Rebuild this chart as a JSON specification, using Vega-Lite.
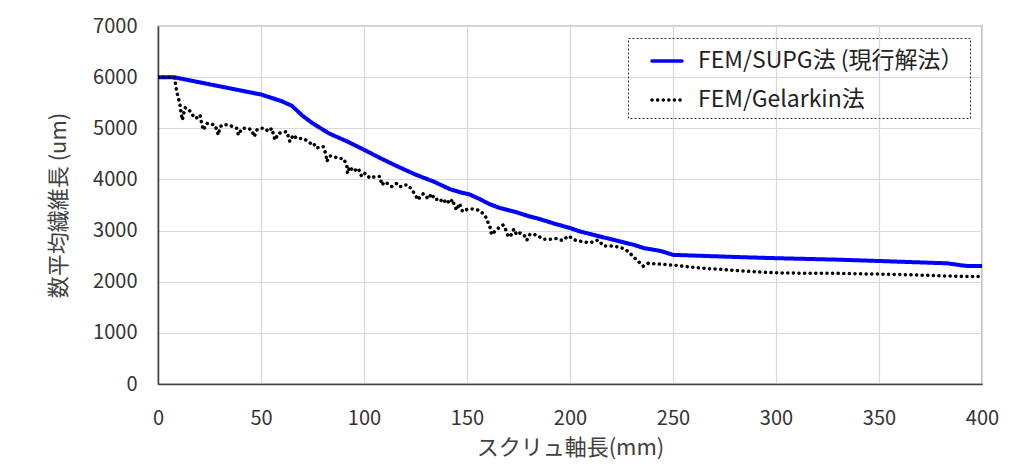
{
  "$schema": "https://vega.github.io/schema/vega-lite/v6.json",
  "width": 824,
  "height": 358,
  "autosize": {"type": "none"},
  "padding": {"left": 158, "top": 26, "right": 40, "bottom": 85},
  "background": "white",
  "config": {
    "font": "Noto Sans CJK JP",
    "view": {"stroke": "#404040", "strokeWidth": 1.2},
    "axis": {
      "labelFont": "Noto Sans CJK JP",
      "titleFont": "Noto Sans CJK JP",
      "labelFontSize": 20,
      "titleFontSize": 22,
      "labelColor": "#333333",
      "titleColor": "#404040",
      "titleFontWeight": "normal",
      "gridColor": "#d9d9d9",
      "gridWidth": 1.2,
      "ticks": false,
      "domainColor": "#404040",
      "domainWidth": 1.5,
      "format": "d"
    }
  },
  "data": {
    "values": [
      {"s": "FEM/SUPG法 (現行解法）", "x": 0, "y": 6000}, {"s": "FEM/SUPG法 (現行解法）", "x": 7.5, "y": 6000}, {"s": "FEM/SUPG法 (現行解法）", "x": 30, "y": 5820}, {"s": "FEM/SUPG法 (現行解法）", "x": 50, "y": 5660},
      {"s": "FEM/SUPG法 (現行解法）", "x": 60, "y": 5530}, {"s": "FEM/SUPG法 (現行解法）", "x": 65, "y": 5440}, {"s": "FEM/SUPG法 (現行解法）", "x": 70, "y": 5250}, {"s": "FEM/SUPG法 (現行解法）", "x": 75, "y": 5100},
      {"s": "FEM/SUPG法 (現行解法）", "x": 83, "y": 4900}, {"s": "FEM/SUPG法 (現行解法）", "x": 92, "y": 4740}, {"s": "FEM/SUPG法 (現行解法）", "x": 100, "y": 4580}, {"s": "FEM/SUPG法 (現行解法）", "x": 108, "y": 4415},
      {"s": "FEM/SUPG法 (現行解法）", "x": 116, "y": 4260}, {"s": "FEM/SUPG法 (現行解法）", "x": 125, "y": 4095}, {"s": "FEM/SUPG法 (現行解法）", "x": 134, "y": 3955}, {"s": "FEM/SUPG法 (現行解法）", "x": 142, "y": 3805},
      {"s": "FEM/SUPG法 (現行解法）", "x": 147, "y": 3745}, {"s": "FEM/SUPG法 (現行解法）", "x": 151, "y": 3710}, {"s": "FEM/SUPG法 (現行解法）", "x": 156, "y": 3620}, {"s": "FEM/SUPG法 (現行解法）", "x": 161, "y": 3515},
      {"s": "FEM/SUPG法 (現行解法）", "x": 166, "y": 3440}, {"s": "FEM/SUPG法 (現行解法）", "x": 173, "y": 3370}, {"s": "FEM/SUPG法 (現行解法）", "x": 180, "y": 3280}, {"s": "FEM/SUPG法 (現行解法）", "x": 184, "y": 3240},
      {"s": "FEM/SUPG法 (現行解法）", "x": 192, "y": 3140}, {"s": "FEM/SUPG法 (現行解法）", "x": 200, "y": 3050}, {"s": "FEM/SUPG法 (現行解法）", "x": 205, "y": 2980}, {"s": "FEM/SUPG法 (現行解法）", "x": 211, "y": 2920},
      {"s": "FEM/SUPG法 (現行解法）", "x": 218, "y": 2850}, {"s": "FEM/SUPG法 (現行解法）", "x": 224, "y": 2790}, {"s": "FEM/SUPG法 (現行解法）", "x": 231, "y": 2720}, {"s": "FEM/SUPG法 (現行解法）", "x": 236, "y": 2655},
      {"s": "FEM/SUPG法 (現行解法）", "x": 240, "y": 2630}, {"s": "FEM/SUPG法 (現行解法）", "x": 244, "y": 2600}, {"s": "FEM/SUPG法 (現行解法）", "x": 250, "y": 2525}, {"s": "FEM/SUPG法 (現行解法）", "x": 283, "y": 2480},
      {"s": "FEM/SUPG法 (現行解法）", "x": 300, "y": 2460}, {"s": "FEM/SUPG法 (現行解法）", "x": 331, "y": 2430}, {"s": "FEM/SUPG法 (現行解法）", "x": 350, "y": 2405}, {"s": "FEM/SUPG法 (現行解法）", "x": 383, "y": 2360},
      {"s": "FEM/SUPG法 (現行解法）", "x": 392, "y": 2310}, {"s": "FEM/SUPG法 (現行解法）", "x": 400, "y": 2305},
      {"s": "FEM/Gelarkin法", "x": 0, "y": 6000}, {"s": "FEM/Gelarkin法", "x": 4, "y": 6000}, {"s": "FEM/Gelarkin法", "x": 7.8, "y": 6000}, {"s": "FEM/Gelarkin法", "x": 8.6, "y": 5860},
      {"s": "FEM/Gelarkin法", "x": 9, "y": 5730}, {"s": "FEM/Gelarkin法", "x": 9.9, "y": 5590}, {"s": "FEM/Gelarkin法", "x": 10.7, "y": 5455}, {"s": "FEM/Gelarkin法", "x": 11.2, "y": 5295},
      {"s": "FEM/Gelarkin法", "x": 11.8, "y": 5160}, {"s": "FEM/Gelarkin法", "x": 13.1, "y": 5400}, {"s": "FEM/Gelarkin法", "x": 14.5, "y": 5390}, {"s": "FEM/Gelarkin法", "x": 16.4, "y": 5290},
      {"s": "FEM/Gelarkin法", "x": 17.7, "y": 5195}, {"s": "FEM/Gelarkin法", "x": 19.3, "y": 5210}, {"s": "FEM/Gelarkin法", "x": 20.4, "y": 5260}, {"s": "FEM/Gelarkin法", "x": 21.2, "y": 5095},
      {"s": "FEM/Gelarkin法", "x": 22, "y": 4965}, {"s": "FEM/Gelarkin法", "x": 23.6, "y": 5095}, {"s": "FEM/Gelarkin法", "x": 25.5, "y": 5080}, {"s": "FEM/Gelarkin法", "x": 27.7, "y": 5065},
      {"s": "FEM/Gelarkin法", "x": 28.5, "y": 4965}, {"s": "FEM/Gelarkin法", "x": 29.3, "y": 4870}, {"s": "FEM/Gelarkin法", "x": 30.1, "y": 5030}, {"s": "FEM/Gelarkin法", "x": 31.7, "y": 5075},
      {"s": "FEM/Gelarkin法", "x": 34.1, "y": 5065}, {"s": "FEM/Gelarkin法", "x": 36.6, "y": 5030}, {"s": "FEM/Gelarkin法", "x": 38.2, "y": 5000}, {"s": "FEM/Gelarkin法", "x": 39, "y": 4870},
      {"s": "FEM/Gelarkin法", "x": 40.8, "y": 5000}, {"s": "FEM/Gelarkin法", "x": 42.2, "y": 5000}, {"s": "FEM/Gelarkin法", "x": 43.8, "y": 5000}, {"s": "FEM/Gelarkin法", "x": 45.5, "y": 4965},
      {"s": "FEM/Gelarkin法", "x": 46.7, "y": 4835}, {"s": "FEM/Gelarkin法", "x": 47.9, "y": 4965}, {"s": "FEM/Gelarkin法", "x": 49.5, "y": 5000}, {"s": "FEM/Gelarkin法", "x": 51.9, "y": 5000},
      {"s": "FEM/Gelarkin法", "x": 53.6, "y": 4935}, {"s": "FEM/Gelarkin法", "x": 55.2, "y": 5000}, {"s": "FEM/Gelarkin法", "x": 56.8, "y": 4770}, {"s": "FEM/Gelarkin法", "x": 58.4, "y": 4900},
      {"s": "FEM/Gelarkin法", "x": 60.8, "y": 4920}, {"s": "FEM/Gelarkin法", "x": 62.5, "y": 4935}, {"s": "FEM/Gelarkin法", "x": 64, "y": 4740}, {"s": "FEM/Gelarkin法", "x": 65.7, "y": 4870},
      {"s": "FEM/Gelarkin法", "x": 67.3, "y": 4800}, {"s": "FEM/Gelarkin法", "x": 68.9, "y": 4800}, {"s": "FEM/Gelarkin法", "x": 70.5, "y": 4800}, {"s": "FEM/Gelarkin法", "x": 73, "y": 4740},
      {"s": "FEM/Gelarkin法", "x": 74.6, "y": 4690}, {"s": "FEM/Gelarkin法", "x": 75.4, "y": 4710}, {"s": "FEM/Gelarkin法", "x": 77, "y": 4610}, {"s": "FEM/Gelarkin法", "x": 78.6, "y": 4645},
      {"s": "FEM/Gelarkin法", "x": 80.3, "y": 4640}, {"s": "FEM/Gelarkin法", "x": 81.6, "y": 4480}, {"s": "FEM/Gelarkin法", "x": 81.9, "y": 4350}, {"s": "FEM/Gelarkin法", "x": 83.5, "y": 4460},
      {"s": "FEM/Gelarkin法", "x": 85.1, "y": 4455}, {"s": "FEM/Gelarkin法", "x": 87.5, "y": 4410}, {"s": "FEM/Gelarkin法", "x": 90, "y": 4410}, {"s": "FEM/Gelarkin法", "x": 91.6, "y": 4285},
      {"s": "FEM/Gelarkin法", "x": 92, "y": 4120}, {"s": "FEM/Gelarkin法", "x": 93.2, "y": 4250}, {"s": "FEM/Gelarkin法", "x": 94.8, "y": 4155}, {"s": "FEM/Gelarkin法", "x": 97.2, "y": 4220},
      {"s": "FEM/Gelarkin法", "x": 98.9, "y": 4055}, {"s": "FEM/Gelarkin法", "x": 100.5, "y": 4120}, {"s": "FEM/Gelarkin法", "x": 102.9, "y": 4025}, {"s": "FEM/Gelarkin法", "x": 105.3, "y": 4055},
      {"s": "FEM/Gelarkin法", "x": 107.8, "y": 4055}, {"s": "FEM/Gelarkin法", "x": 108.6, "y": 3890}, {"s": "FEM/Gelarkin法", "x": 110.2, "y": 3955}, {"s": "FEM/Gelarkin法", "x": 113.4, "y": 3860},
      {"s": "FEM/Gelarkin法", "x": 115.8, "y": 3920}, {"s": "FEM/Gelarkin法", "x": 117.5, "y": 3855}, {"s": "FEM/Gelarkin法", "x": 119.1, "y": 3890}, {"s": "FEM/Gelarkin法", "x": 121.5, "y": 3890},
      {"s": "FEM/Gelarkin法", "x": 123.9, "y": 3760}, {"s": "FEM/Gelarkin法", "x": 126.3, "y": 3600}, {"s": "FEM/Gelarkin法", "x": 127.2, "y": 3665}, {"s": "FEM/Gelarkin法", "x": 128.8, "y": 3720},
      {"s": "FEM/Gelarkin法", "x": 131.2, "y": 3620}, {"s": "FEM/Gelarkin法", "x": 132.8, "y": 3720}, {"s": "FEM/Gelarkin法", "x": 134.5, "y": 3600}, {"s": "FEM/Gelarkin法", "x": 136.7, "y": 3630},
      {"s": "FEM/Gelarkin法", "x": 138.3, "y": 3540}, {"s": "FEM/Gelarkin法", "x": 140.1, "y": 3610}, {"s": "FEM/Gelarkin法", "x": 141.4, "y": 3530}, {"s": "FEM/Gelarkin法", "x": 143, "y": 3610},
      {"s": "FEM/Gelarkin法", "x": 143.8, "y": 3500}, {"s": "FEM/Gelarkin法", "x": 145, "y": 3400}, {"s": "FEM/Gelarkin法", "x": 146.3, "y": 3530}, {"s": "FEM/Gelarkin法", "x": 147.9, "y": 3370},
      {"s": "FEM/Gelarkin法", "x": 150.3, "y": 3420}, {"s": "FEM/Gelarkin法", "x": 153.4, "y": 3420}, {"s": "FEM/Gelarkin法", "x": 156, "y": 3395}, {"s": "FEM/Gelarkin法", "x": 158.7, "y": 3300},
      {"s": "FEM/Gelarkin法", "x": 159.9, "y": 3190}, {"s": "FEM/Gelarkin法", "x": 161.2, "y": 3060}, {"s": "FEM/Gelarkin法", "x": 161.9, "y": 2920}, {"s": "FEM/Gelarkin法", "x": 163.9, "y": 3000},
      {"s": "FEM/Gelarkin法", "x": 165.7, "y": 3065}, {"s": "FEM/Gelarkin法", "x": 167.6, "y": 3110}, {"s": "FEM/Gelarkin法", "x": 168.9, "y": 3010}, {"s": "FEM/Gelarkin法", "x": 170, "y": 2880},
      {"s": "FEM/Gelarkin法", "x": 171.1, "y": 2890}, {"s": "FEM/Gelarkin法", "x": 172.8, "y": 3030}, {"s": "FEM/Gelarkin法", "x": 174.1, "y": 2915}, {"s": "FEM/Gelarkin法", "x": 175.7, "y": 2950},
      {"s": "FEM/Gelarkin法", "x": 177.7, "y": 2915}, {"s": "FEM/Gelarkin法", "x": 179, "y": 2810}, {"s": "FEM/Gelarkin法", "x": 180.6, "y": 2930}, {"s": "FEM/Gelarkin法", "x": 183.8, "y": 2915},
      {"s": "FEM/Gelarkin法", "x": 187, "y": 2830}, {"s": "FEM/Gelarkin法", "x": 190.3, "y": 2830}, {"s": "FEM/Gelarkin法", "x": 193.5, "y": 2845}, {"s": "FEM/Gelarkin法", "x": 196.4, "y": 2805},
      {"s": "FEM/Gelarkin法", "x": 199.2, "y": 2895}, {"s": "FEM/Gelarkin法", "x": 202.4, "y": 2815}, {"s": "FEM/Gelarkin法", "x": 205.7, "y": 2785}, {"s": "FEM/Gelarkin法", "x": 208.1, "y": 2770},
      {"s": "FEM/Gelarkin法", "x": 210.5, "y": 2770}, {"s": "FEM/Gelarkin法", "x": 213.7, "y": 2815}, {"s": "FEM/Gelarkin法", "x": 216.2, "y": 2700}, {"s": "FEM/Gelarkin法", "x": 219.4, "y": 2700},
      {"s": "FEM/Gelarkin法", "x": 222.7, "y": 2685}, {"s": "FEM/Gelarkin法", "x": 225.9, "y": 2650}, {"s": "FEM/Gelarkin法", "x": 228.3, "y": 2590}, {"s": "FEM/Gelarkin法", "x": 230.7, "y": 2490},
      {"s": "FEM/Gelarkin法", "x": 233.2, "y": 2395}, {"s": "FEM/Gelarkin法", "x": 235.6, "y": 2305}, {"s": "FEM/Gelarkin法", "x": 238, "y": 2360}, {"s": "FEM/Gelarkin法", "x": 242, "y": 2350},
      {"s": "FEM/Gelarkin法", "x": 250, "y": 2325}, {"s": "FEM/Gelarkin法", "x": 258, "y": 2290}, {"s": "FEM/Gelarkin法", "x": 266, "y": 2260}, {"s": "FEM/Gelarkin法", "x": 274, "y": 2240},
      {"s": "FEM/Gelarkin法", "x": 282, "y": 2215}, {"s": "FEM/Gelarkin法", "x": 290, "y": 2195}, {"s": "FEM/Gelarkin法", "x": 299, "y": 2175}, {"s": "FEM/Gelarkin法", "x": 307, "y": 2170},
      {"s": "FEM/Gelarkin法", "x": 315, "y": 2165}, {"s": "FEM/Gelarkin法", "x": 328, "y": 2165}, {"s": "FEM/Gelarkin法", "x": 340, "y": 2155}, {"s": "FEM/Gelarkin法", "x": 350, "y": 2150},
      {"s": "FEM/Gelarkin法", "x": 360, "y": 2140}, {"s": "FEM/Gelarkin法", "x": 370, "y": 2130}, {"s": "FEM/Gelarkin法", "x": 380, "y": 2115}, {"s": "FEM/Gelarkin法", "x": 390, "y": 2105},
      {"s": "FEM/Gelarkin法", "x": 400, "y": 2100}
    ]
  },
  "encoding": {
    "x": {
      "field": "x",
      "type": "quantitative",
      "scale": {"domain": [0, 400], "nice": false},
      "axis": {"values": [0, 50, 100, 150, 200, 250, 300, 350, 400], "title": "スクリュ軸長(mm)", "labelPadding": 24, "titlePadding": 9, "labelFlush": false}
    },
    "y": {
      "field": "y",
      "type": "quantitative",
      "scale": {"domain": [0, 7000], "nice": false},
      "axis": {"values": [0, 1000, 2000, 3000, 4000, 5000, 6000, 7000], "title": "数平均繊維長 (um)", "labelPadding": 21, "titlePadding": 22, "labelFlush": false}
    },
    "color": {
      "field": "s",
      "type": "nominal",
      "scale": {"domain": ["FEM/SUPG法 (現行解法）", "FEM/Gelarkin法"], "range": ["#0000ff", "#000000"]},
      "legend": {
        "title": null,
        "orient": "top-right",
        "offset": 12,
        "padding": 6,
        "strokeColor": "#333333",
        "labelFontSize": 23,
        "labelColor": "#222222",
        "labelLimit": 400,
        "symbolType": "stroke",
        "symbolSize": 900,
        "symbolStrokeWidth": 3.5,
        "symbolOffset": 16,
        "rowPadding": 10,
        "labelOffset": 14,
        "encode": {
          "legend": {"update": {"strokeDash": {"value": [2, 2]}}},
          "symbols": {"update": {"strokeCap": {"value": "round"}}}
        }
      }
    },
    "strokeDash": {
      "field": "s",
      "type": "nominal",
      "scale": {"domain": ["FEM/SUPG法 (現行解法）", "FEM/Gelarkin法"], "range": [[1, 0], [0.1, 5.5]]},
      "legend": null
    }
  },
  "layer": [
    {
      "transform": [{"filter": "datum.s === 'FEM/SUPG法 (現行解法）'"}],
      "mark": {"type": "line", "strokeWidth": 4, "strokeCap": "round", "strokeJoin": "round", "clip": true}
    },
    {
      "transform": [{"filter": "datum.s === 'FEM/Gelarkin法'"}],
      "mark": {"type": "line", "strokeWidth": 3.5, "strokeCap": "round", "strokeJoin": "round", "clip": true}
    }
  ]
}
